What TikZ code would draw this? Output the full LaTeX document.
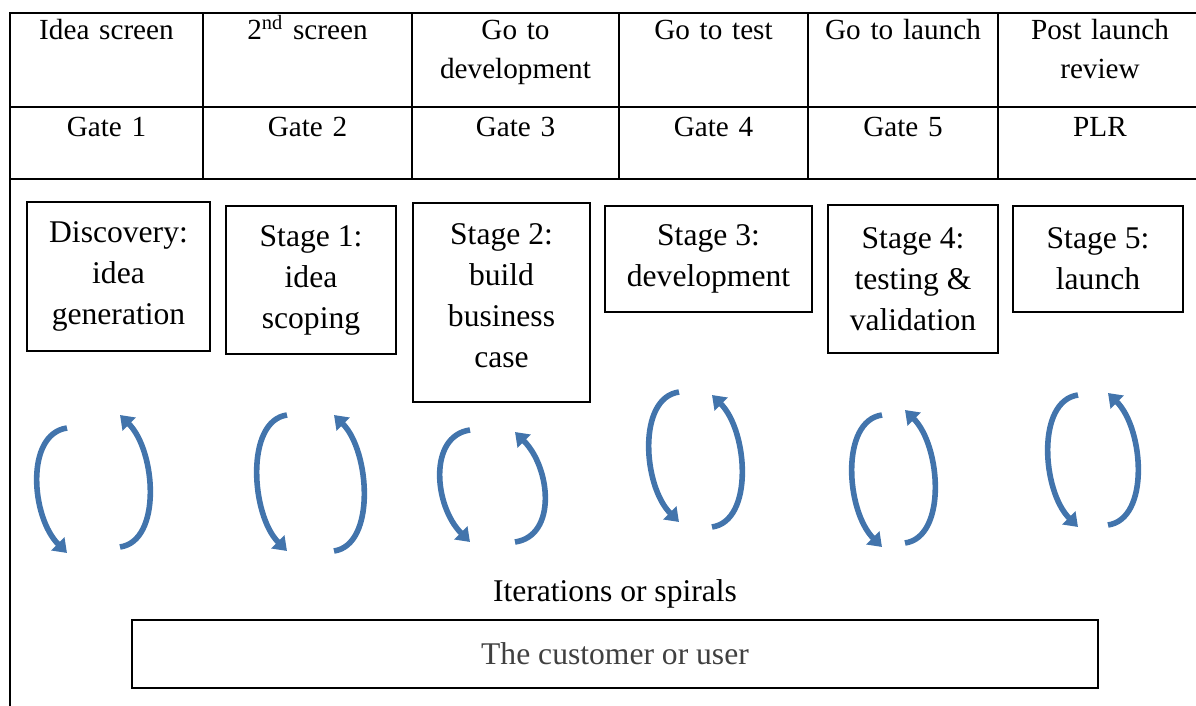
\documentclass[tikz,border=0pt]{standalone}
\usepackage{fontspec}
\setmainfont{Liberation Serif}
\usetikzlibrary{arrows.meta,positioning}
\definecolor{spiralblue}{RGB}{66,116,172}

\begin{document}
\begin{tikzpicture}[x=0.5pt,y=-0.5pt,
    cell/.style={anchor=base,text width=90pt,align=center,inner sep=0pt,font=\fontsize{14.6}{19.5}\selectfont},
    stagebox/.style={draw,line width=1pt,align=center,inner sep=0pt,font=\fontsize{15.8}{20.5}\selectfont},
    spiral/.style={draw=spiralblue,line width=2.8pt,-{Triangle[width=9pt,length=6.5pt]}},
    grid/.style={line width=1pt}]
  \useasboundingbox (0,0) rectangle (1196,706);
  \clip (0,0) rectangle (1196,706);

  % table lines
  \draw[grid] (10,712) -- (10,13) -- (1210,13);
  \draw[grid] (10,107) -- (1210,107);
  \draw[grid] (10,179) -- (1210,179);
  \foreach \x in {203,412,619,808,998} \draw[grid] (\x,13) -- (\x,179);

  % gate names
  \node[cell] (h1) at (106.5,40) {Idea screen};
  \node[cell] (h2) at (307.5,40) {2\textsuperscript{nd} screen};
  \node[cell] (h3) at (515.5,40) {Go to\\development};
  \node[cell] (h4) at (713.5,40) {Go to test};
  \node[cell] (h5) at (903,40) {Go to launch};
  \node[cell] (h6) at (1100,40) {Post launch\\review};

  \node[cell] (g1) at (106.5,137) {Gate 1};
  \node[cell] (g2) at (307.5,137) {Gate 2};
  \node[cell] (g3) at (515.5,137) {Gate 3};
  \node[cell] (g4) at (713.5,137) {Gate 4};
  \node[cell] (g5) at (903,137) {Gate 5};
  \node[cell] (g6) at (1100,137) {PLR};

  % stages
  \node[stagebox,minimum width=91.5pt,minimum height=74.5pt] (s0) at (118.5,276.5) {Discovery:\\idea\\generation};
  \node[stagebox,minimum width=85pt,minimum height=74pt] (s1) at (311,280) {Stage 1:\\idea\\scoping};
  \node[stagebox,minimum width=88.5pt,minimum height=99.5pt] (s2) at (501.5,302.5) {Stage 2:\\build\\business\\case\\[-13.5pt]};
  \node[stagebox,minimum width=103.5pt,minimum height=53pt] (s3) at (708.5,259) {Stage 3:\\development};
  \node[stagebox,minimum width=85pt,minimum height=74pt] (s4) at (913,279) {Stage 4:\\testing \&\\validation};
  \node[stagebox,minimum width=85pt,minimum height=53pt] (s5) at (1098,259) {Stage 5:\\launch};

  % iterations
  \foreach \n/\xl/\lt/\lb/\xr/\rt/\rb in {1/67/428/553/120/415/547,2/287/415/551/334/415/551,
      3/470/430/542/515/432/542,4/679/392/522/712/395/527,5/882/415/547/905/410/543,
      6/1078/395/527/1108/393/525}{
    \coordinate (dn\n-s) at (\xl,\lt);
    \coordinate (dn\n-e) at (\xl,\lb);
    \coordinate (up\n-s) at (\xr,\rb);
    \coordinate (up\n-e) at (\xr,\rt);
    \draw[spiral] (dn\n-s) .. controls +(-42,6) and +(-36,-36) .. (dn\n-e);
    \draw[spiral] (up\n-s) .. controls +(42,-6) and +(36,36) .. (up\n-e);
  }

  \node[anchor=base,font=\fontsize{15.8}{19}\selectfont] (iter) at (615,601) {Iterations or spirals};
  \node[draw,line width=1pt,minimum width=483pt,minimum height=34pt,inner sep=0pt,
        text=black!75,font=\fontsize{15.8}{19}\selectfont] (user) at (615,654) {The customer or user};
\end{tikzpicture}
\end{document}
